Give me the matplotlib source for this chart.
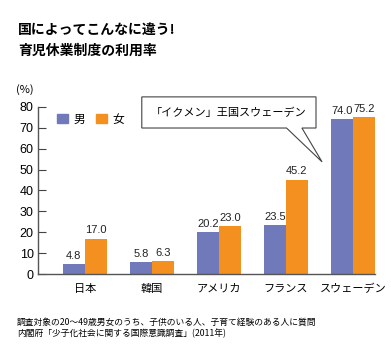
import matplotlib.pyplot as plt
import numpy as np
from matplotlib.patches import Polygon, Patch

plt.rcParams['font.family'] = ['Noto Sans CJK JP', 'DejaVu Sans']

countries = ['日本', '韓国', 'アメリカ', 'フランス', 'スウェーデン']
male = [4.8, 5.8, 20.2, 23.5, 74.0]
female = [17.0, 6.3, 23.0, 45.2, 75.2]

c_male = '#7079b9'
c_female = '#f39020'
num_font = ['Liberation Sans Narrow', 'Liberation Sans', 'DejaVu Sans']

fig = plt.figure(figsize=(3.91, 3.46), dpi=100)
ax = fig.add_axes([0.097, 0.208, 0.862, 0.483])

x = np.arange(len(countries))
w = 0.33
b1 = ax.bar(x - w / 2, male, w, color=c_male, label='男')
b2 = ax.bar(x + w / 2, female, w, color=c_female, label='女')

for bars in (b1, b2):
    for b in bars:
        ax.text(b.get_x() + b.get_width() / 2, b.get_height() + 1.5,
                f'{b.get_height():.1f}', ha='center', va='bottom',
                fontsize=8, family=num_font, color='#222222')

ax.set_xlim(-0.70, 4.33)
ax.set_ylim(0, 80)
ax.set_yticks(range(0, 81, 10))
ax.set_xticks(x)
ax.set_xticklabels(countries, fontsize=8)
ax.tick_params(axis='x', length=0, pad=7)
ax.tick_params(axis='y', direction='in', length=6, color='#444444', pad=3)
for lab in ax.get_yticklabels():
    lab.set_family(num_font)
    lab.set_fontsize(9)
for s in ('top', 'right'):
    ax.spines[s].set_visible(False)
for s in ('left', 'bottom'):
    ax.spines[s].set_color('#555555')
    ax.spines[s].set_linewidth(1.0)

ax.legend(handles=[Patch(color=c_male, label='男'), Patch(color=c_female, label='女')],
          loc='upper left', bbox_to_anchor=(0.025, 1.03), ncol=2, frameon=False,
          handlelength=0.9, handleheight=0.9, handletextpad=0.5,
          columnspacing=0.9, fontsize=8.5)

# callout box
box = [(0.85, 69.9), (3.01, 69.9), (3.54, 53.7), (3.24, 69.9),
       (3.45, 69.9), (3.45, 84.8), (0.85, 84.8)]
ax.add_patch(Polygon(box, closed=True, facecolor='white', edgecolor='#444444',
                     linewidth=0.8, clip_on=False, zorder=5))
ax.text(2.15, 77.4, '「イクメン」王国スウェーデン', ha='center', va='center',
        fontsize=8, zorder=6)

fig.text(0.046, 0.914, '国によってこんなに違う!', fontsize=10, fontweight='bold', va='center')
fig.text(0.046, 0.854, '育児休業制度の利用率', fontsize=10, fontweight='bold', va='center')
fig.text(0.042, 0.740, '(%)', fontsize=8, va='center')

fig.text(0.043, 0.068, '調査対象の20～49歳男女のうち、子供のいる人、子育て経験のある人に質問',
         fontsize=6.3, va='center')
fig.text(0.043, 0.035, '内閣府「少子化社会に関する国際意識調査」(2011年)',
         fontsize=6.3, va='center')

fig.savefig('out.png', dpi=100)
